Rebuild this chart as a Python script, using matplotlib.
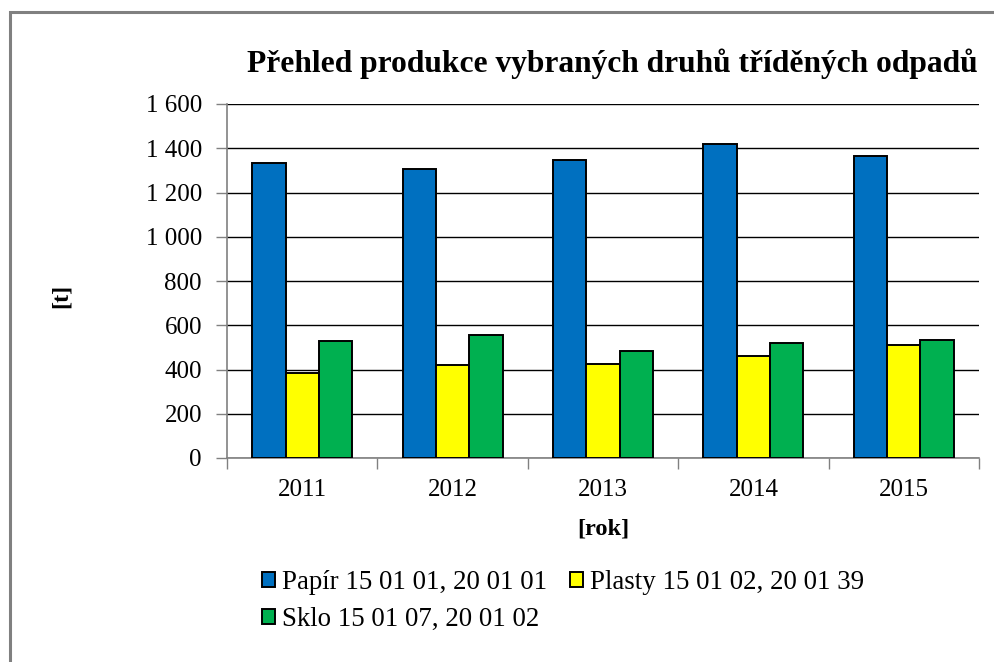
import matplotlib.pyplot as plt
from matplotlib.patches import Rectangle
from matplotlib.ticker import FuncFormatter

years = ["2011", "2012", "2013", "2014", "2015"]
papir = [1332, 1305, 1345, 1421, 1364]
plasty = [383, 419, 425, 460, 511]
sklo = [527, 556, 485, 518, 535]

series_labels = [
    "Papír 15 01 01, 20 01 01",
    "Plasty 15 01 02, 20 01 39",
    "Sklo 15 01 07, 20 01 02",
]
series_colors = ["#0070C0", "#FFFF00", "#00B050"]
title = "Přehled produkce vybraných druhů tříděných odpadů"

plt.rcParams["font.family"] = ["Liberation Serif", "DejaVu Serif"]

fig = plt.figure(figsize=(9.95, 6.62), dpi=100)
# outer chart frame, cut off at the right and bottom edges
fig.patches.append(
    Rectangle((9.5 / 995, -0.1), 1.2, 1.1 - 12 / 662, transform=fig.transFigure,
              facecolor="none", edgecolor="#808080", linewidth=2.2)
)
ax = fig.add_axes([227 / 995, 1 - 458 / 662, (979 - 227) / 995, (458 - 104) / 662])

width = 0.222
x = list(range(len(years)))
bars = []
for i, (values, color) in enumerate(zip([papir, plasty, sklo], series_colors)):
    pos = [xi + (i - 1) * width for xi in x]
    bars.append(ax.bar(pos, values, width=width, color=color, edgecolor="black",
                       linewidth=1.4, zorder=3, label=series_labels[i]))

ax.set_xlim(-0.5, len(years) - 0.5)
ax.set_ylim(0, 1600)
ax.set_yticks(range(0, 1601, 200))
ax.yaxis.set_major_formatter(FuncFormatter(lambda v, _: f"{int(v):,}".replace(",", " ")))
ax.grid(axis="y", color="black", linewidth=1.0, zorder=0)

ax.set_xticks([b - 0.5 for b in range(len(years) + 1)])
ax.set_xticklabels([])
ax.set_xticks(x, minor=True)
ax.set_xticklabels(years, minor=True)
ax.tick_params(axis="x", which="major", length=8, color="#808080", width=1)
ax.tick_params(axis="x", which="minor", length=0, pad=15, labelsize=18)
ax.tick_params(axis="y", length=8, color="#808080", width=1, labelsize=18, pad=10)

for side in ["top", "right"]:
    ax.spines[side].set_visible(False)
for side in ["left", "bottom"]:
    ax.spines[side].set_color("#808080")
    ax.spines[side].set_linewidth(1.2)

fig.text(612 / 995, 1 - 72 / 662, title, ha="center", va="baseline",
         fontsize=22.7, fontweight="bold")
fig.text(603 / 995, 1 - 529 / 662, "[rok]", ha="center", va="center",
         fontsize=17.6, fontweight="bold")
fig.text(61 / 995, 1 - 296 / 662, "[t]", ha="center", va="center",
         fontsize=17.6, fontweight="bold", rotation=90)

handles = [bars[0], bars[2], bars[1]]
labels = [series_labels[0], series_labels[2], series_labels[1]]
fig.legend(handles, labels, ncol=2, frameon=False,
           prop={"family": "Liberation Serif", "size": 19.4},
           loc="upper left", bbox_to_anchor=(262 / 995, 1 - 570 / 662),
           handlelength=0.48, handleheight=0.48, handletextpad=0.27,
           columnspacing=0.85, labelspacing=0.45, borderaxespad=0, borderpad=0)

fig.savefig("out.png", dpi=100)
